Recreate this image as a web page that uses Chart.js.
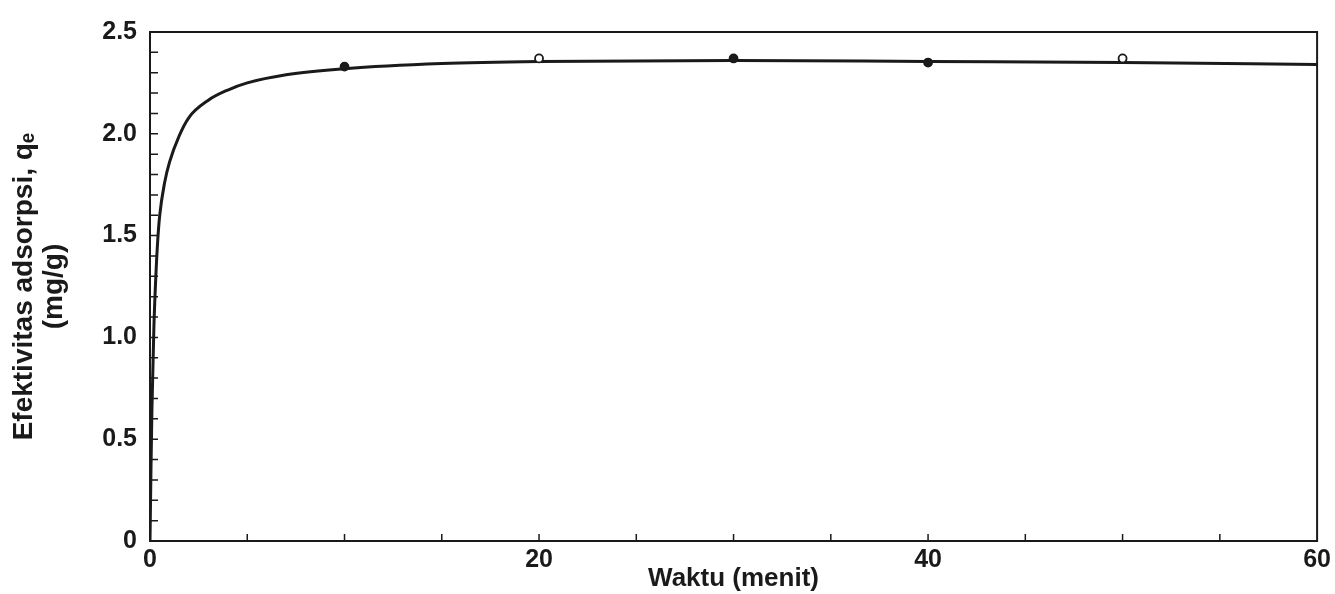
<!DOCTYPE html>
<html>
<head>
<meta charset="utf-8">
<script src="https://cdn.jsdelivr.net/npm/chart.js@4.4.1/dist/chart.umd.min.js"></script>
<style>
  html, body { margin: 0; padding: 0; background: #ffffff; }
  #wrap { width: 1335px; height: 594px; position: relative; }
</style>
</head>
<body>
<div id="wrap"><canvas id="c" width="1335" height="594"></canvas></div>
<script>
// ---- data ----
const curveTime = [0, 0.05, 0.1, 0.2, 0.3, 0.4, 0.5, 0.75, 1, 1.5, 2, 3, 4, 5, 7, 10, 15, 20, 30, 40, 50, 60];
const curveQe   = [0, 0.35, 0.65, 1.05, 1.30, 1.48, 1.60, 1.76, 1.86, 1.99, 2.08, 2.165, 2.215, 2.25, 2.29, 2.32, 2.345, 2.355, 2.36, 2.355, 2.35, 2.34];
const obsTime   = [10, 20, 30, 40, 50];
const obsQe     = [2.33, 2.37, 2.37, 2.35, 2.37];
const xMajorTicks = [0, 20, 40, 60];
const xMinorTicks = [5, 10, 15, 20, 25, 30, 35, 40, 45, 50, 55];
const yMajorTicks = [0, 0.5, 1.0, 1.5, 2.0, 2.5];
const yMinorTicks = [0.1,0.2,0.3,0.4,0.5,0.6,0.7,0.8,0.9,1.0,1.1,1.2,1.3,1.4,1.5,1.6,1.7,1.8,1.9,2.0,2.1,2.2,2.3,2.4];
const xTitle = 'Waktu (menit)';
const yTitle = ['Efektivitas adsorpsi, q\u2091', '(mg/g)'];

const INK = '#1a1a1a';
const FONT = '"Liberation Sans", Arial, sans-serif';

const curveData = curveTime.map((t, i) => ({ x: t, y: curveQe[i] }));
const obsData = obsTime.map((t, i) => ({ x: t, y: obsQe[i] }));

const framePlugin = {
  id: 'frame',
  afterDatasetsDraw(chart) {
    const { ctx, chartArea: a, scales } = chart;
    const xs = scales.x, ys = scales.y;
    ctx.save();
    ctx.strokeStyle = INK;
    ctx.lineWidth = 2;
    ctx.strokeRect(a.left, a.top, a.right - a.left, a.bottom - a.top);
    ctx.lineWidth = 1.5;
    ctx.beginPath();
    xMinorTicks.forEach(v => {
      const px = xs.getPixelForValue(v);
      ctx.moveTo(px, a.bottom);
      ctx.lineTo(px, a.bottom - 7);
    });
    yMinorTicks.forEach(v => {
      const py = ys.getPixelForValue(v);
      ctx.moveTo(a.left, py);
      ctx.lineTo(a.left + 8, py);
    });
    ctx.stroke();
    ctx.restore();
  }
};

new Chart(document.getElementById('c'), {
  type: 'scatter',
  data: {
    datasets: [
      {
        label: 'model',
        data: curveData,
        showLine: true,
        borderColor: INK,
        borderWidth: 3,
        pointRadius: 0,
        cubicInterpolationMode: 'monotone',
        fill: false,
        order: 2
      },
      {
        label: 'data',
        data: obsData,
        showLine: false,
        pointRadius: 4,
        pointBorderWidth: 1.8,
        pointBorderColor: INK,
        pointBackgroundColor: [INK, '#ffffff', INK, INK, '#ffffff'],
        order: 1
      }
    ]
  },
  options: {
    responsive: false,
    animation: false,
    devicePixelRatio: 1,
    layout: { padding: { left: 0, right: 13, top: 32, bottom: 0 } },
    plugins: { legend: { display: false }, tooltip: { enabled: false } },
    scales: {
      x: {
        type: 'linear',
        min: 0, max: 60,
        afterBuildTicks: s => { s.ticks = xMajorTicks.map(v => ({ value: v })); },
        afterFit: s => { s.height = 53; },
        grid: { display: false, drawTicks: false },
        border: { display: true, color: INK, width: 2 },
        ticks: {
          color: INK,
          font: { family: FONT, size: 25, weight: 'bold' },
          padding: 4,
          maxRotation: 0,
          callback: v => String(v)
        },
        title: {
          display: true,
          text: xTitle,
          color: INK,
          font: { family: FONT, size: 26, weight: 'bold' },
          padding: { top: -12, bottom: 0 }
        }
      },
      y: {
        type: 'linear',
        min: 0, max: 2.5,
        afterBuildTicks: s => { s.ticks = yMajorTicks.map(v => ({ value: v })); },
        afterFit: s => { s.width = 150; },
        grid: { display: false, drawTicks: false },
        border: { display: true, color: INK, width: 2 },
        ticks: {
          color: INK,
          font: { family: FONT, size: 25, weight: 'bold' },
          padding: 13,
          callback: v => (v === 0 ? '0' : Number(v).toFixed(1))
        },
        title: {
          display: true,
          text: yTitle,
          color: INK,
          font: { family: FONT, size: 28, weight: 'bold', lineHeight: 1.05 },
          padding: { top: 10, bottom: 0 }
        }
      }
    }
  },
  plugins: [framePlugin]
});
</script>
</body>
</html>
